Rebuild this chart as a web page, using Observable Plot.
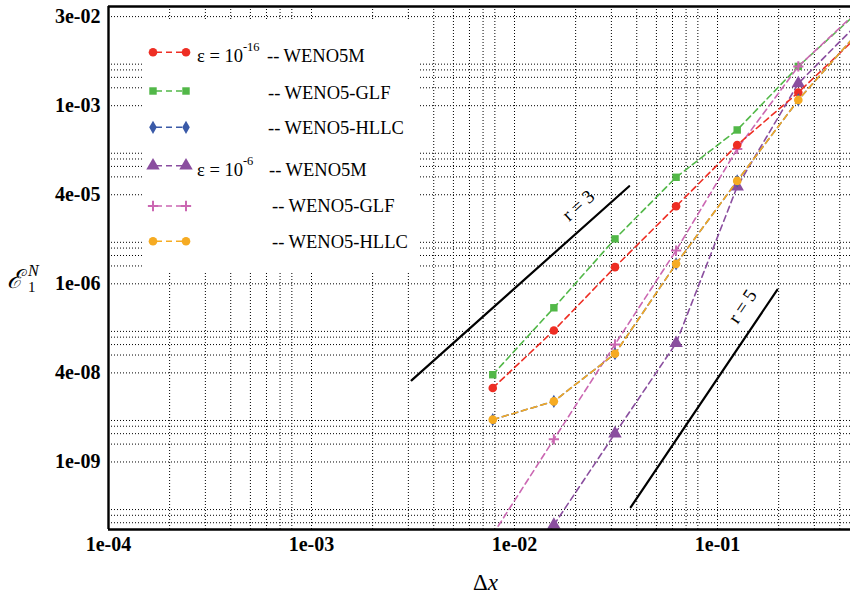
<!DOCTYPE html>
<html>
<head>
<meta charset="utf-8">
<script src="https://cdn.jsdelivr.net/npm/d3@7"></script>
<script src="https://cdn.jsdelivr.net/npm/@observablehq/plot@0.6"></script>
<style>
  html, body { margin: 0; padding: 0; background: #fff; }
  svg { display: block; }
</style>
</head>
<body>
<div id="chart"></div>
<script>
// ---- data ----
const dx = [1/128, 1/64, 1/32, 1/16, 1/8, 1/4, 1/2];

const eps16_WENO5M = [1.76e-8, 1.64e-7, 1.91e-6, 2.02e-5, 2.18e-4, 1.67e-3, 1.58e-2];
const eps16_GLF    = [2.95e-8, 3.95e-7, 5.71e-6, 6.22e-5, 3.90e-4, 4.58e-3, 3.98e-2];
const eps16_HLLC   = [5.16e-9, 1.05e-8, 6.65e-8, 2.17e-6, 5.41e-5, 1.25e-3, 1.82e-2];
const eps6_WENO5M  = [2.5e-12, 8.7e-11, 3.01e-9, 1.00e-7, 4.34e-5, 2.37e-3, 2.57e-2];
const eps6_GLF     = [6.0e-11, 2.41e-9, 9.55e-8, 3.64e-6, 1.87e-4, 4.58e-3, 4.17e-2];
const eps6_HLLC    = [5.16e-9, 1.05e-8, 6.65e-8, 2.17e-6, 5.41e-5, 1.25e-3, 1.82e-2];

const seriesNames = ["WENO5M", "WENO5-GLF", "WENO5-HLLC", "WENO5M", "WENO5-GLF", "WENO5-HLLC"];
const seriesEps = ["10^-16", "", "", "10^-6", "", ""];
const seriesColors = ["#ee2e24", "#52b848", "#3a5aa8", "#8a4e9f", "#cb67b2", "#f6ab22"];
const seriesSymbols = ["circle", "square", "diamond", "triangle", "plus", "circle"];

// reference slope lines
const refOrder = [3, 5];
const refX = [[0.00311, 0.0367], [0.0374, 0.1968]];
const refY = [[2.37e-8, 4.40e-5], [1.73e-10, 7.94e-7]];
const refLabelX = [0.02065, 0.1327];
const refLabelY = [2.08e-5, 4.16e-7];

// ticks
const xTicks = [1e-4, 1e-3, 1e-2, 1e-1];
const xTickLabels = ["1e-04", "1e-03", "1e-02", "1e-01"];
const yTicks = [Math.pow(10, -1.5), 1e-3, Math.pow(10, -4.5), 1e-6, Math.pow(10, -7.5), 1e-9];
const yTickLabels = ["3e-02", "1e-03", "4e-05", "1e-06", "4e-08", "1e-09"];

// ---- build ----
const xDomain = [1e-4, Math.pow(10, -0.345)];
const yDomain = [Math.pow(10, -10.137), Math.pow(10, -1.33)];

const allSeries = [eps16_WENO5M, eps16_GLF, eps16_HLLC, eps6_WENO5M, eps6_GLF, eps6_HLLC];
const rows = [];
allSeries.forEach((vals, i) => vals.forEach((v, j) => rows.push({s: i, x: dx[j], y: v})));

const xGrid = [];
for (const t of xTicks) for (let m = 1; m <= 8; m++) { const v = m * t; if (v >= xDomain[0] && v <= xDomain[1]) xGrid.push(v); }
const yGrid = [];
for (const t of [...yTicks, Math.pow(10, -10.5)]) for (let m = 1; m <= 5; m++) { const v = m * t; if (v >= yDomain[0] && v <= yDomain[1]) yGrid.push(v); }

const font = "Liberation Serif, Times New Roman, DejaVu Serif, serif";
const drawOrder = [1, 3, 4, 0, 2, 5];
const dotR = {circle: 4.3, square: 4.2, diamond: 4.0, triangle: 5.0, plus: 3.4};

const marks = [
  Plot.gridX(xGrid, {stroke: "#000", strokeOpacity: 1, strokeWidth: 1, strokeDasharray: "1,2"}),
  Plot.gridY(yGrid, {stroke: "#000", strokeOpacity: 1, strokeWidth: 1, strokeDasharray: "1,2"}),
];
refOrder.forEach((r, i) => {
  marks.push(Plot.line([0, 1], {x: k => refX[i][k], y: k => refY[i][k], stroke: "#000", strokeWidth: 2.2}));
});
marks.push(Plot.text(refOrder.map((r, i) => i), {
  x: i => refLabelX[i], y: i => refLabelY[i], text: i => `r = ${refOrder[i]}`,
  rotate: i => [-41.8, -56][i], fontSize: 19, fontFamily: font, fill: "#000"
}));
for (const s of drawOrder) {
  const d = rows.filter(r => r.s === s);
  marks.push(Plot.line(d, {x: "x", y: "y", stroke: seriesColors[s], strokeWidth: 1.6, strokeDasharray: "6,4", clip: true}));
  const sym = seriesSymbols[s];
  if (sym === "plus") {
    marks.push(Plot.dot(d, {x: "x", y: "y", symbol: sym, stroke: seriesColors[s], strokeWidth: 2, r: dotR[sym], clip: true}));
  } else {
    marks.push(Plot.dot(d, {x: "x", y: "y", symbol: sym, fill: seriesColors[s], stroke: "none", r: dotR[sym], clip: true}));
  }
}
marks.push(Plot.ruleX([xDomain[0]], {stroke: "#000", strokeWidth: 2.4}));
marks.push(Plot.ruleY(yDomain, {stroke: "#000", strokeWidth: 2.4}));
// tick labels drawn as text at the frame edges
marks.push(Plot.text(xTicks, {
  x: d => d, text: (d, i) => xTickLabels[i], frameAnchor: "bottom", lineAnchor: "top", dy: 7,
  fontSize: 20, fontWeight: "bold", fontFamily: font, fill: "#000"
}));
marks.push(Plot.text(yTicks, {
  y: d => d, text: (d, i) => yTickLabels[i], frameAnchor: "left", textAnchor: "end", dx: -8,
  fontSize: 20, fontWeight: "bold", fontFamily: font, fill: "#000"
}));

const chart = Plot.plot({
  width: 850,
  height: 598,
  marginLeft: 108,
  marginRight: 0,
  marginTop: 6,
  marginBottom: 69,
  style: {fontFamily: font, color: "#000", background: "#fff"},
  x: {type: "log", domain: xDomain, axis: null},
  y: {type: "log", domain: yDomain, axis: null},
  marks
});
document.getElementById("chart").appendChild(chart);

// ---- legend & axis titles ----
const svg = d3.select(chart);
const lg = svg.append("g").attr("font-family", font).attr("fill", "#000").attr("text-anchor", "start");
lg.append("rect").attr("x", 142).attr("y", 19).attr("width", 276).attr("height", 253).attr("fill", "#fff");
const rowY = [52.3, 91, 127.3, 165.7, 206, 241.3];
const textBase = [62, 99, 134, 176, 212, 248];
const nameX = [267, 268, 268, 269, 272, 272];
const symbolGen = {
  circle: d3.symbolCircle, square: d3.symbolSquare, diamond: d3.symbolDiamond,
  triangle: d3.symbolTriangle, plus: d3.symbolPlus
};
seriesNames.forEach((name, i) => {
  const y = rowY[i];
  const c = seriesColors[i];
  lg.append("line").attr("x1", 153).attr("x2", 186).attr("y1", y).attr("y2", y)
    .attr("stroke", c).attr("stroke-width", 1.6).attr("stroke-dasharray", "6,4").attr("stroke-dashoffset", -3);
  for (const xx of [153, 186]) {
    const sym = seriesSymbols[i];
    const rr = dotR[sym];
    const p = lg.append("path").attr("transform", `translate(${xx},${y})`)
      .attr("d", d3.symbol(symbolGen[sym], Math.PI * rr * rr)());
    if (sym === "plus") p.attr("fill", "none").attr("stroke", c).attr("stroke-width", 2);
    else p.attr("fill", c);
  }
  if (seriesEps[i]) {
    const exp = seriesEps[i].split("^")[1];
    const t = lg.append("text").attr("x", 197).attr("y", textBase[i]).attr("font-size", 18.5);
    t.append("tspan").text("ε = 10");
    t.append("tspan").attr("dy", -11).attr("font-size", 12.5).text(exp);
  }
  lg.append("text").attr("x", nameX[i]).attr("y", textBase[i]).attr("font-size", 18.5).text("-- " + name);
});

// y axis title
const yt = svg.append("g").attr("font-family", font).attr("fill", "#000").attr("text-anchor", "start");
yt.append("text").attr("x", 7).attr("y", 288).attr("font-size", 26).attr("font-style", "italic")
  .attr("font-family", "DejaVu Serif, Liberation Serif, serif").text("ℰ");
yt.append("text").attr("x", 28).attr("y", 276).attr("font-size", 16).attr("font-style", "italic").text("N");
yt.append("text").attr("x", 28).attr("y", 292).attr("font-size", 15).text("1");

// x axis title
const xt = svg.append("text").attr("x", 473).attr("y", 590).attr("text-anchor", "start")
  .attr("font-family", font).attr("font-size", 23).attr("fill", "#000");
xt.append("tspan").text("Δ");
xt.append("tspan").attr("font-style", "italic").text("x");
</script>
</body>
</html>
